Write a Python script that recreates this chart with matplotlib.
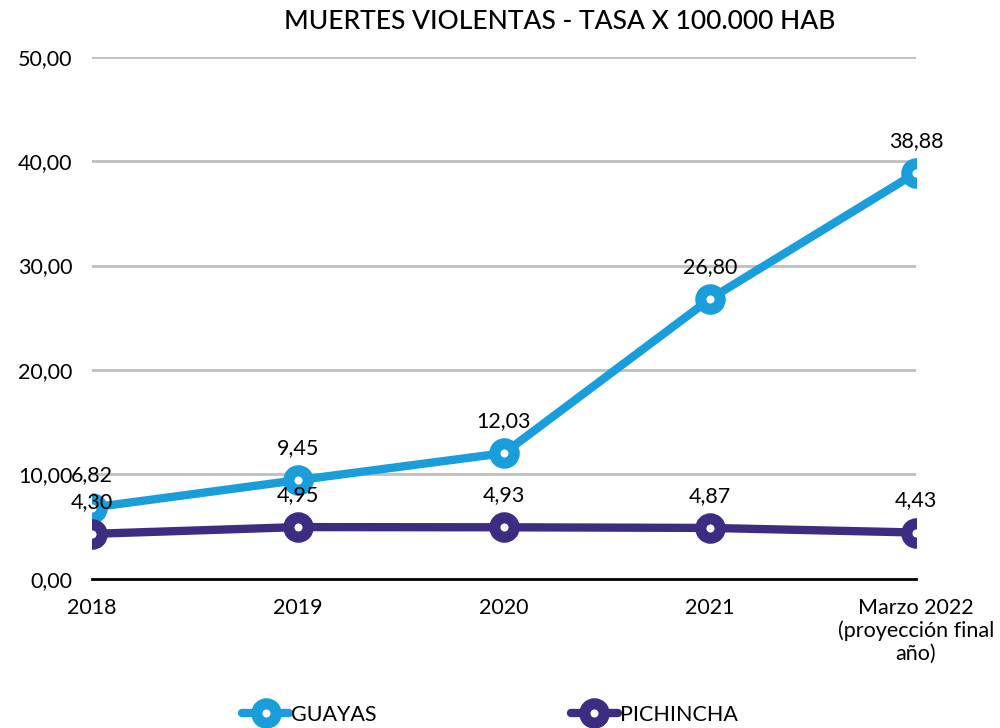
import numpy as np
import matplotlib.pyplot as plt

plt.rcParams['font.family'] = ['Lato', 'DejaVu Sans']

categories = ["2018", "2019", "2020", "2021", "Marzo 2022\n(proyección final\naño)"]
guayas = [6.82, 9.45, 12.03, 26.80, 38.88]
pichincha = [4.30, 4.95, 4.93, 4.87, 4.43]
yticks = [0, 10, 20, 30, 40, 50]

c_guayas = "#1A9DDB"
c_pich = "#3E2C82"


def fmt(v):
    return ("%.2f" % v).replace(".", ",")


fig = plt.figure(figsize=(10, 7.28), dpi=100)
ax = fig.add_axes([0.092, 0.205, 0.824, 0.717])

x = np.arange(len(categories))
for vals, col, name in [(guayas, c_guayas, "GUAYAS"), (pichincha, c_pich, "PICHINCHA")]:
    ax.plot(x, vals, color=col, lw=6, marker="o", ms=14, mew=8,
            mec=col, mfc="white", label=name, zorder=3, solid_capstyle="round")
    for xi, v in zip(x, vals):
        ax.annotate(fmt(v), (xi, v), xytext=(0, 16), textcoords="offset points",
                    ha="center", va="bottom", fontsize=15.5, zorder=4)

ax.set_xlim(0, 4)
ax.set_ylim(0, 50)
ax.set_yticks(yticks)
ax.set_yticklabels([fmt(t) for t in yticks], fontsize=15.5)
ax.set_xticks(x)
ax.set_xticklabels(categories, fontsize=15.5, linespacing=1.15)
ax.tick_params(axis="y", length=0, pad=14)
ax.tick_params(axis="x", length=0, pad=14)
ax.grid(axis="y", color="#BFBFBF", lw=2)
ax.set_axisbelow(True)
for s in ["top", "right", "left"]:
    ax.spines[s].set_visible(False)
ax.spines["bottom"].set_color("black")
ax.spines["bottom"].set_linewidth(2)
ax.spines["bottom"].set_zorder(2)

fig.text(0.56, 0.97, "MUERTES VIOLENTAS - TASA X 100.000 HAB", ha="center", va="center",
         fontsize=19, fontweight="medium")

fig.legend(loc="lower center", bbox_to_anchor=(0.49, -0.022), ncol=2, frameon=False,
           fontsize=15.5, columnspacing=9, handlelength=2.2, handletextpad=0.1)

fig.savefig("out.png", dpi=100)
